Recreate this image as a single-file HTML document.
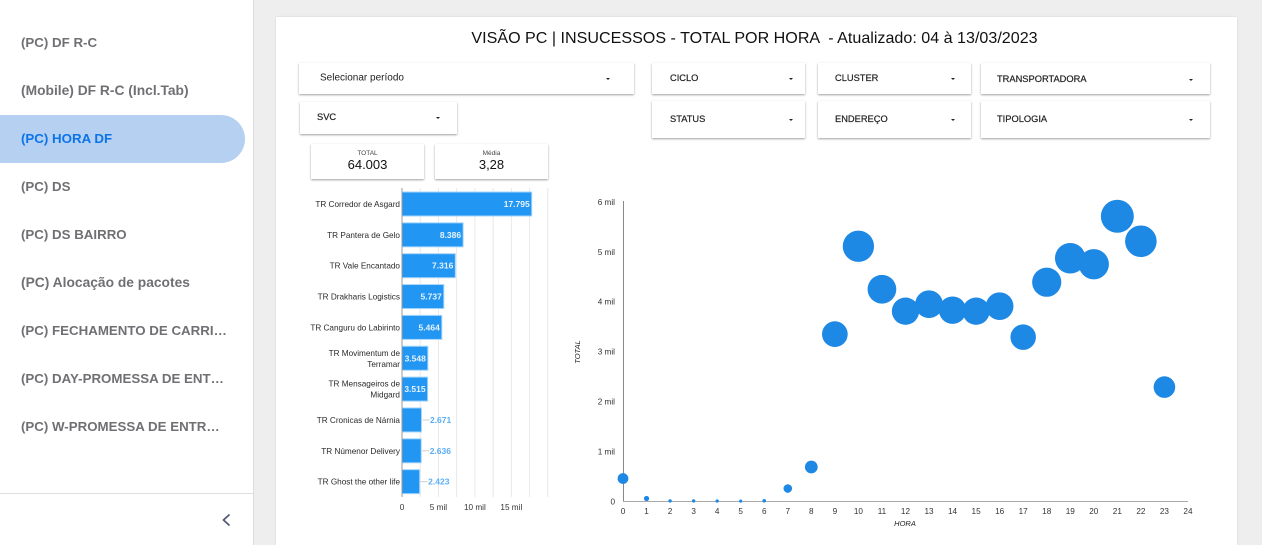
<!DOCTYPE html>
<html lang="pt">
<head>
<meta charset="utf-8">
<title>VISÃO PC | INSUCESSOS - TOTAL POR HORA</title>
<style>
html,body{margin:0;padding:0;width:1262px;height:545px;overflow:hidden;background:#eee;font-family:"Liberation Sans",sans-serif;}
.abs{position:absolute;}
#sidebar{left:0;top:0;width:253px;height:545px;background:#fff;border-right:1px solid #dcdcdc;}
.nav{position:absolute;left:21px;width:204px;height:48px;line-height:48px;font-size:13.3px;font-weight:bold;color:#707074;white-space:nowrap;overflow:hidden;text-overflow:ellipsis;margin-top:1px;}
.nav.mixed{font-size:13.8px;}
#nav-active-bg{left:0;top:115px;width:245px;height:48px;background:#b6d0f1;border-radius:0 24px 24px 0;}
#card{left:276px;top:17px;width:961px;height:528px;background:#fff;box-shadow:0 0 2px rgba(0,0,0,.12);}
#title{left:276px;top:27px;width:957px;text-align:center;font-size:16.1px;line-height:22px;color:#111;white-space:pre;}
.filter{position:absolute;background:#fff;box-shadow:0 1px 2px rgba(0,0,0,.38);font-size:9.3px;color:#222;-webkit-text-stroke:.2px #222;}
.filter span{position:absolute;top:50%;margin-top:-1px;transform:translateY(-50%);white-space:nowrap;}
.filter i{position:absolute;top:50%;margin-top:-1px;margin-left:1px;width:0;height:0;border-left:2.5px solid transparent;border-right:2.5px solid transparent;border-top:2.5px solid #222;}
.score{position:absolute;top:144px;width:113px;height:35px;background:#fff;box-shadow:0 1px 2px rgba(0,0,0,.38);text-align:center;color:#111;}
.score small{position:absolute;left:0;right:0;top:6px;font-size:6.5px;line-height:8px;color:#444;}
.score b{position:absolute;left:0;right:0;top:13px;font-size:13px;line-height:16px;font-weight:normal;}
svg{position:absolute;left:0;top:0;}
svg text{font-family:"Liberation Sans",sans-serif;}
</style>
</head>
<body>
<div id="sidebar" class="abs">
  <div id="nav-active-bg" class="abs"></div>
  <div class="nav" style="top:18px">(PC) DF R-C</div>
  <div class="nav mixed" style="top:66px">(Mobile) DF R-C (Incl.Tab)</div>
  <div class="nav" style="top:114px;color:#0b74ea">(PC) HORA DF</div>
  <div class="nav" style="top:162px">(PC) DS</div>
  <div class="nav" style="top:210px">(PC) DS BAIRRO</div>
  <div class="nav mixed" style="top:258px">(PC) Alocação de pacotes</div>
  <div class="nav" style="top:306px;width:209px">(PC) FECHAMENTO DE CARRINHO</div>
  <div class="nav" style="top:354px">(PC) DAY-PROMESSA DE ENTREGA</div>
  <div class="nav" style="top:402px">(PC) W-PROMESSA DE ENTREGA</div>
  <div class="abs" style="left:0;top:493px;width:253px;height:1px;background:#dedede"></div>
  <svg width="253" height="545"><polyline points="229.5,514.5 223.5,520 229.5,525.5" fill="none" stroke="#4f5a70" stroke-width="1.7"/></svg>
</div>

<div id="card" class="abs"></div>
<div id="title" class="abs">VISÃO PC | INSUCESSOS - TOTAL POR HORA  - Atualizado: 04 à 13/03/2023</div>

<div class="filter" style="left:299px;top:63px;width:335px;height:31px;font-size:10px;-webkit-text-stroke:0"><span style="left:21px">Selecionar período</span><i style="left:306px"></i></div>
<div class="filter" style="left:300px;top:102px;width:157px;height:32px"><span style="left:17px">SVC</span><i style="left:135px"></i></div>
<div class="filter" style="left:652px;top:63px;width:153px;height:31px"><span style="left:18px">CICLO</span><i style="left:136px"></i></div>
<div class="filter" style="left:652px;top:101px;width:153px;height:37px"><span style="left:18px">STATUS</span><i style="left:136px"></i></div>
<div class="filter" style="left:818px;top:63px;width:153px;height:31px"><span style="left:17px">CLUSTER</span><i style="left:132px"></i></div>
<div class="filter" style="left:818px;top:101px;width:153px;height:37px"><span style="left:17px">ENDEREÇO</span><i style="left:132px"></i></div>
<div class="filter" style="left:981px;top:63px;width:229px;height:31px"><span style="left:16px;margin-top:0">TRANSPORTADORA</span><i style="left:207px;margin-top:0"></i></div>
<div class="filter" style="left:981px;top:101px;width:229px;height:37px"><span style="left:16px">TIPOLOGIA</span><i style="left:207px"></i></div>

<div class="score" style="left:311px"><small>TOTAL</small><b>64.003</b></div>
<div class="score" style="left:435px"><small>Média</small><b>3,28</b></div>

<svg id="bar-chart" width="1262" height="545"></svg>
<svg id="bubble-chart" width="1262" height="545"></svg>

<script>
var barCategories = ["TR Corredor de Asgard","TR Pantera de Gelo","TR Vale Encantado","TR Drakharis Logistics","TR Canguru do Labirinto","TR Movimentum de Terramar","TR Mensageiros de Midgard","TR Cronicas de Nárnia","TR Númenor Delivery","TR Ghost the other life"];
var barValues = [17795,8386,7316,5737,5464,3548,3515,2671,2636,2423];
var barGridValues = [2500,5000,7500,10000,12500,15000,17500,20000];
var barTickValues = [0,5000,10000,15000];
var barTickLabels = ["0","5 mil","10 mil","15 mil"];

var hours = [0,1,2,3,4,5,6,7,8,9,10,11,12,13,14,15,16,17,18,19,20,21,22,23];
var hourTotals = [460,60,12,12,10,8,14,260,690,3350,5110,4250,3810,3950,3830,3810,3910,3290,4390,4870,4750,5710,5210,2290];
var hourTicks = [0,1,2,3,4,5,6,7,8,9,10,11,12,13,14,15,16,17,18,19,20,21,22,23,24];
var totalTicks = [0,1000,2000,3000,4000,5000,6000];
var totalTickLabels = ["0","1 mil","2 mil","3 mil","4 mil","5 mil","6 mil"];

var NS = "http://www.w3.org/2000/svg";
function mk(parent, tag, attrs, text) {
  var e = document.createElementNS(NS, tag);
  for (var k in attrs) e.setAttribute(k, attrs[k]);
  if (text !== undefined) e.textContent = text;
  parent.appendChild(e);
  return e;
}
function fmt(v) { return String(v).replace(/\B(?=(\d{3})+$)/g, "."); }
function wrapLabel(s) {
  if (s.length <= 24) return [s];
  var i = s.lastIndexOf(" ");
  return [s.slice(0, i), s.slice(i + 1)];
}

/* bar chart */
var barSvg = document.getElementById("bar-chart");
function bx(v) { return 402 + v * 0.00729; }
function by(i) { return 204 + i * 30.85; }
barGridValues.forEach(function (v) {
  var g = mk(barSvg, "line", {x1: bx(v), x2: bx(v), y1: 188, y2: 497, stroke: "#e8e8e8", "stroke-width": 1});
  
  
});
barValues.forEach(function (v, i) {
  var y = by(i);
  var r = mk(barSvg, "rect", {x: 402, y: y - 12, width: bx(v) - 402, height: 24, fill: "#2196f3", stroke: "#a6d5fa", "stroke-width": 1});
  
  
  var lines = wrapLabel(barCategories[i]);
  lines.forEach(function (ln, j) {
    var t = mk(barSvg, "text", {x: 400, y: y + 3 + (j - (lines.length - 1) / 2) * 11, "text-anchor": "end", "font-size": 8.2, fill: "#2a2a2a"}, ln);
    
    
  });
  var lbl;
  if (bx(v) - 402 > 22) {
    lbl = mk(barSvg, "text", {x: bx(v) - 2, y: y + 3, "text-anchor": "end", "font-size": 8.5, "font-weight": "bold", fill: "#e8f4fe"}, fmt(v));
  } else {
    var leader = mk(barSvg, "line", {x1: bx(v) + 1, x2: bx(v) + 8, y1: y, y2: y, stroke: "#cfcfcf", "stroke-width": 1});
    
    
    lbl = mk(barSvg, "text", {x: bx(v) + 8.5, y: y + 3, "font-size": 8.5, "font-weight": "bold", fill: "#5aaef5"}, fmt(v));
  }
  
  
});
var barAxis = mk(barSvg, "line", {x1: 402, x2: 402, y1: 188, y2: 497, stroke: "#999", "stroke-width": 1});


barTickValues.forEach(function (v, i) {
  var t = mk(barSvg, "text", {x: bx(v), y: 510, "text-anchor": "middle", "font-size": 8.2, fill: "#333"}, barTickLabels[i]);
  
  
});

/* bubble chart */
var bub = document.getElementById("bubble-chart");
function hx(h) { return 623 + h * 23.54; }
function ty(v) { return 501.5 - v * 0.04995; }
function rad(v) { return 1 + 0.205 * Math.sqrt(v); }
var yAxis = mk(bub, "line", {x1: 623.5, x2: 623.5, y1: 201, y2: 502, stroke: "#888", "stroke-width": 1});


var xAxis = mk(bub, "line", {x1: 623, x2: 1188, y1: 501.5, y2: 501.5, stroke: "#aaa", "stroke-width": 1});


totalTicks.forEach(function (v, i) {
  var t = mk(bub, "text", {x: 615, y: ty(v) + 3, "text-anchor": "end", "font-size": 8.2, fill: "#333"}, totalTickLabels[i]);
  
  
});
hourTicks.forEach(function (h) {
  var t = mk(bub, "text", {x: hx(h), y: 514, "text-anchor": "middle", "font-size": 8.2, fill: "#333"}, String(h));
  
  
});
hours.forEach(function (h, i) {
  var c = mk(bub, "circle", {cx: hx(h), cy: ty(hourTotals[i]), r: rad(hourTotals[i]), fill: "#1e88e5"});
  
  
});
var xTitle = mk(bub, "text", {x: 905, y: 526, "text-anchor": "middle", "font-size": 7.5, "font-style": "italic", fill: "#222"}, "HORA");


var yTitle = mk(bub, "text", {x: 0, y: 0, transform: "translate(580,352) rotate(-90)", "text-anchor": "middle", "font-size": 7.5, "font-style": "italic", fill: "#222"}, "TOTAL");


</script>
</body>
</html>
